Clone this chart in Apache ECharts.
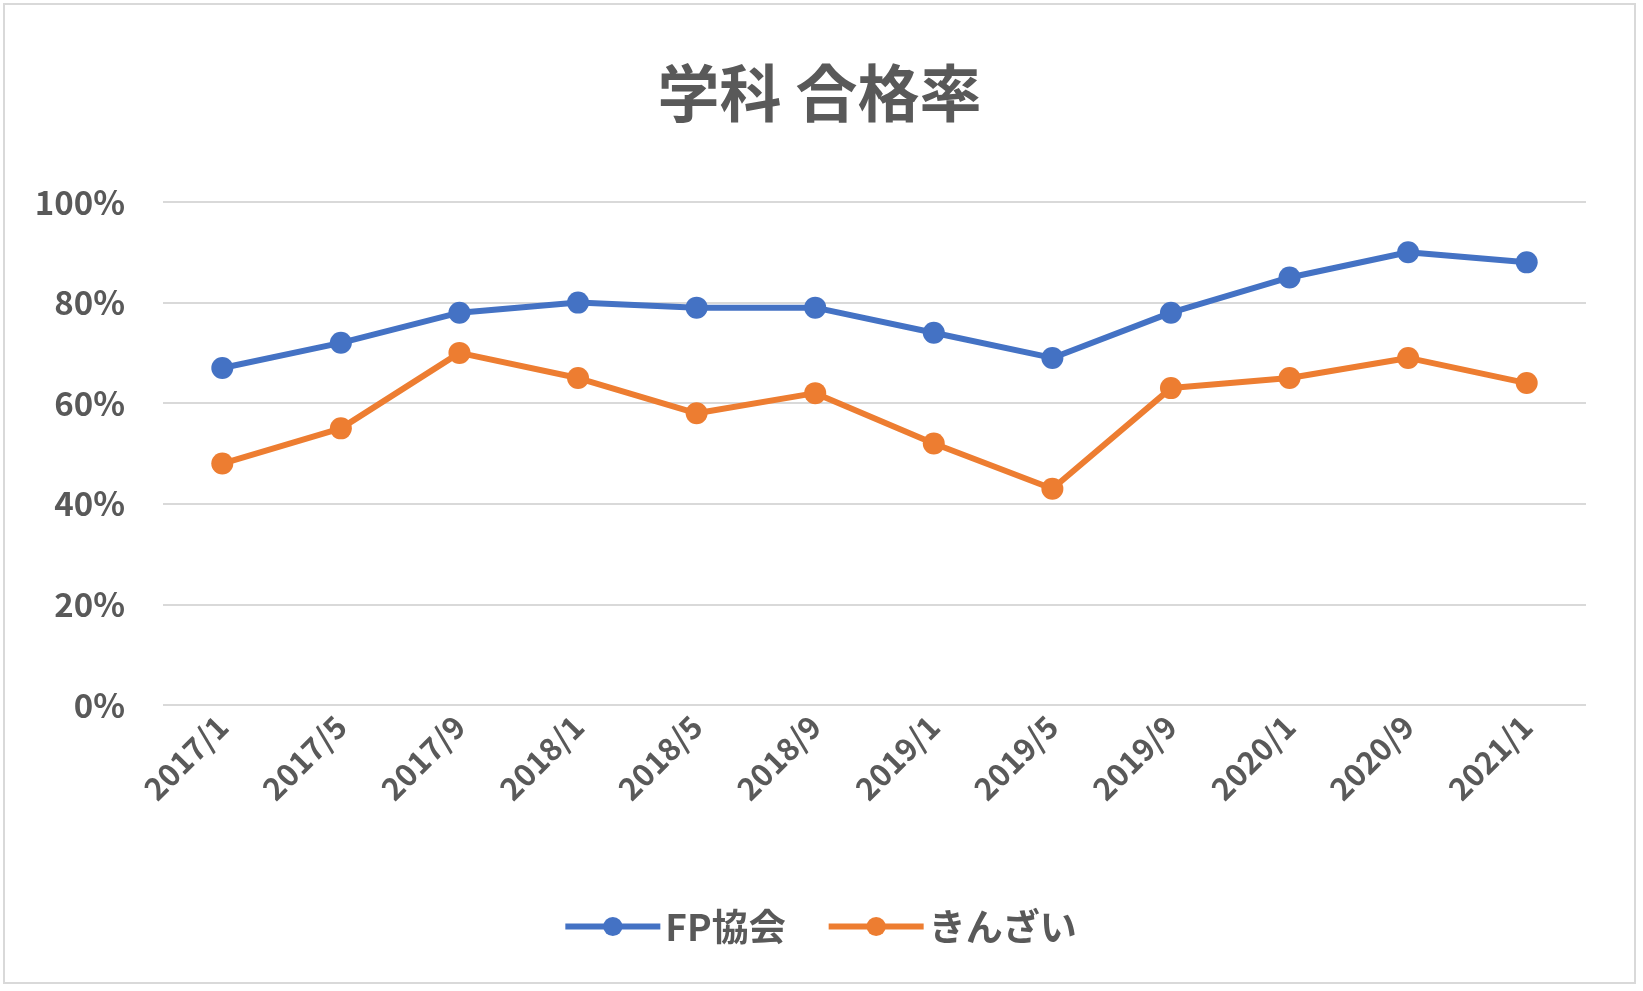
<!DOCTYPE html>
<html>
<head>
<meta charset="utf-8">
<script src="https://cdn.jsdelivr.net/npm/echarts@6/dist/echarts.min.js"></script>
<style>
  html, body { margin: 0; padding: 0; background: #fff; }
  #chart { width: 1633px; height: 981px; margin: 3px; border: 2px solid #d9d9d9; box-sizing: border-box; }
</style>
</head>
<body>
<div id="chart"></div>
<script>
const categories = ['2017/1', '2017/5', '2017/9', '2018/1', '2018/5', '2018/9', '2019/1', '2019/5', '2019/9', '2020/1', '2020/9', '2021/1'];
const fpValues = [67, 72, 78, 80, 79, 79, 74, 69, 78, 85, 90, 88];
const kinzaiValues = [48, 55, 70, 65, 58, 62, 52, 43, 63, 65, 69, 64];

const font = "'Noto Sans CJK JP', 'Noto Sans', sans-serif";
const chart = echarts.init(document.getElementById('chart'));
chart.setOption({
  textStyle: { fontFamily: font },
  title: {
    text: '学科 合格率',
    left: 'center',
    top: 52,
    textStyle: { fontSize: 62, fontWeight: 'bold', color: '#595959', fontFamily: font }
  },
  legend: {
    bottom: 32,
    left: 'center',
    itemWidth: 95,
    itemHeight: 24,
    itemGap: 40,
    lineStyle: { width: 6 },
    textStyle: { fontSize: 37, fontWeight: 'bold', color: '#595959' },
    data: ['FP協会', 'きんざい']
  },
  grid: { left: 158, right: 48, top: 197, bottom: 277 },
  xAxis: {
    type: 'category',
    data: categories,
    axisLine: { show: false },
    axisTick: { show: false },
    axisLabel: { rotate: 45, fontSize: 31, fontWeight: 'bold', color: '#595959', margin: 16 }
  },
  yAxis: {
    type: 'value',
    min: 0,
    max: 100,
    interval: 20,
    axisLabel: { formatter: '{value}%', fontSize: 33, fontWeight: 'bold', color: '#595959', margin: 38 },
    splitLine: { lineStyle: { color: '#d9d9d9', width: 2 } }
  },
  series: [
    {
      name: 'FP協会',
      type: 'line',
      data: fpValues,
      symbol: 'circle',
      symbolSize: 22,
      lineStyle: { width: 6, color: '#4472c4' },
      itemStyle: { color: '#4472c4' }
    },
    {
      name: 'きんざい',
      type: 'line',
      data: kinzaiValues,
      symbol: 'circle',
      symbolSize: 22,
      lineStyle: { width: 6, color: '#ed7d31' },
      itemStyle: { color: '#ed7d31' }
    }
  ]
});
</script>
</body>
</html>
